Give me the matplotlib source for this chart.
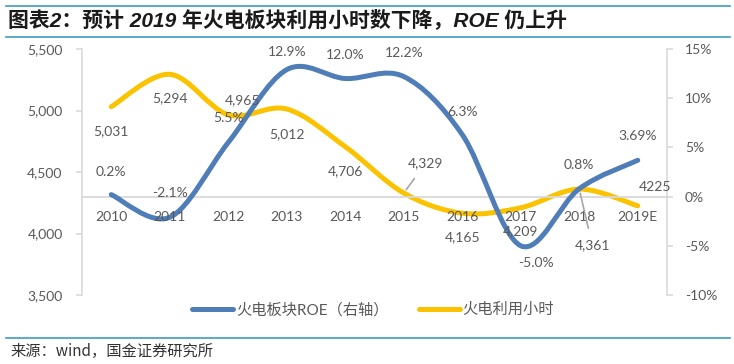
import matplotlib
matplotlib.use("Agg")
import matplotlib.pyplot as plt
from matplotlib.path import Path
from matplotlib.patches import PathPatch
from matplotlib.lines import Line2D
import numpy as np

# ---- data ----
categories = ["2010", "2011", "2012", "2013", "2014", "2015", "2016", "2017", "2018", "2019E"]
hours = [5031, 5294, 4965, 5012, 4706, 4329, 4165, 4209, 4361, 4225]
hour_labels = ["5,031", "5,294", "4,965", "5,012", "4,706", "4,329", "4,165", "4,209", "4,361", "4225"]
roe = [0.2, -2.1, 5.5, 12.9, 12.0, 12.2, 6.3, -5.0, 0.8, 3.69]
roe_labels = ["0.2%", "-2.1%", "5.5%", "12.9%", "12.0%", "12.2%", "6.3%", "-5.0%", "0.8%", "3.69%"]
left_ticks = [3500, 4000, 4500, 5000, 5500]
right_ticks = [-10, -5, 0, 5, 10, 15]

title = "图表2：预计 2019 年火电板块利用小时数下降，ROE 仍上升"
source = "来源：wind，国金证券研究所"
legend_roe = "火电板块ROE（右轴）"
legend_hours = "火电利用小时"

BLUE = "#4F7DB8"
YELLOW = "#FBC200"
GRID = "#D9D9D9"
TXT = "#595959"
TEAL = "#3E9DBE"

FONT = ["Lato", "Noto Sans CJK SC", "DejaVu Sans"]
plt.rcParams["font.family"] = FONT

W, H = 734, 364
fig = plt.figure(figsize=(W / 100, H / 100), dpi=100)
fig.patch.set_facecolor("white")


def px(x0, y0, w, h):
    return [x0 / W, 1 - (y0 + h) / H, w / W, h / H]


ax = fig.add_axes(px(82, 49, 585, 246))
ax2 = ax.twinx()

x = np.arange(len(categories))
ax.set_xlim(-0.5, len(categories) - 0.5)
ax.set_ylim(3500, 5500)
ax2.set_ylim(-10, 15)


def smooth_path(xs, ys):
    pts = np.column_stack([xs, ys]).astype(float)
    n = len(pts)
    verts = [pts[0]]
    codes = [Path.MOVETO]
    for i in range(n - 1):
        p0 = pts[i - 1] if i > 0 else pts[i]
        p1 = pts[i]
        p2 = pts[i + 1]
        p3 = pts[i + 2] if i + 2 < n else pts[i + 1]
        c1 = p1 + (p2 - p0) / 6.0
        c2 = p2 - (p3 - p1) / 6.0
        verts += [c1, c2, p2]
        codes += [Path.CURVE4] * 3
    return Path(verts, codes)


ax.add_patch(PathPatch(smooth_path(x, hours), fill=False, edgecolor=YELLOW, lw=3.6,
                       capstyle="round", joinstyle="round", zorder=3))
ax2.add_patch(PathPatch(smooth_path(x, roe), fill=False, edgecolor=BLUE, lw=3.6,
                        capstyle="round", joinstyle="round", zorder=3))

# spines / ticks
for s in ["top", "bottom", "right"]:
    ax.spines[s].set_visible(False)
for s in ["top", "bottom", "left"]:
    ax2.spines[s].set_visible(False)
ax.spines["left"].set_color(GRID)
ax.spines["left"].set_linewidth(1.2)
ax2.spines["right"].set_color(GRID)
ax2.spines["right"].set_linewidth(1.2)
ax.set_xticks([])
ax.set_yticks(left_ticks)
ax.set_yticklabels([f"{v:,}" for v in left_ticks])
ax2.set_yticks(right_ticks)
ax2.set_yticklabels([f"{v}%" for v in right_ticks])
ax.tick_params(axis="y", length=4, width=1.2, color=GRID, labelcolor=TXT,
               labelsize=10, pad=10)
ax2.tick_params(axis="y", length=4, width=1.2, color=GRID, labelcolor=TXT,
                labelsize=10, pad=9)
for lab in ax2.get_yticklabels():
    lab.set_horizontalalignment("left")

ax2.axhline(0, color=GRID, lw=1.3, zorder=1)

PT = 0.72  # px -> points

# category labels along 0% line
for i, c in enumerate(categories):
    ax2.annotate(c, (i, 0), xytext=(0, -20 * PT), textcoords="offset points",
                 ha="center", va="center", fontsize=10, color=TXT, zorder=5)

# hours labels (offsets in px: dx, dy up)
hour_off = [(0, -24), (0, -24), (14, 15), (0, -25), (0, -24),
            (22, 30), (0, -24), (0, -23), (13, -56), (17, 19)]
for i, (v, lab) in enumerate(zip(hours, hour_labels)):
    dx, dy = hour_off[i]
    kw = {}
    if i in (5, 8):
        kw["arrowprops"] = dict(arrowstyle="-", color="#A6A6A6", lw=1.2,
                                shrinkA=6, shrinkB=3)
    ax2.annotate(lab, (i, v), xycoords=ax.transData, xytext=(dx * PT, dy * PT),
                 textcoords="offset points", ha="center", va="center",
                 fontsize=10, color=TXT, zorder=6, **kw)

roe_off = [(0, 23), (0, 24), (0, 24), (0, 18), (0, 24),
           (0, 24), (0, 23), (15, -17), (0, 24), (0, 24)]
for i, (v, lab) in enumerate(zip(roe, roe_labels)):
    dx, dy = roe_off[i]
    ax2.annotate(lab, (i, v), xytext=(dx * PT, dy * PT), textcoords="offset points",
                 ha="center", va="center", fontsize=10, color=TXT, zorder=6)

# legend
handles = [Line2D([], [], color=BLUE, lw=3.6, solid_capstyle="round"),
           Line2D([], [], color=YELLOW, lw=3.6, solid_capstyle="round")]
leg = fig.legend(handles, [legend_roe, legend_hours], loc="center",
                 bbox_to_anchor=(373 / W, 1 - 310 / H), ncol=2, frameon=False,
                 fontsize=11, handlelength=2.7, handletextpad=0.15,
                 columnspacing=2.0, labelcolor=TXT)

# title, rules and source
fig.text(8 / W, 1 - 20 / H, title, fontsize=15, fontweight="bold",
         fontstyle="italic", color="#1A1A1A", va="center", ha="left",
         family=["Liberation Sans", "Noto Sans CJK SC"])
for yy in (6, 37, 338):
    fig.add_artist(Line2D([6 / W, 730 / W], [1 - yy / H, 1 - yy / H],
                          transform=fig.transFigure, color=TEAL, lw=1.2))
fig.text(10 / W, 1 - 351 / H, source, fontsize=11, color="#333333",
         va="center", ha="left", family=["Noto Sans CJK SC", "DejaVu Sans"])

fig.savefig("out.png", dpi=100, facecolor="white")
